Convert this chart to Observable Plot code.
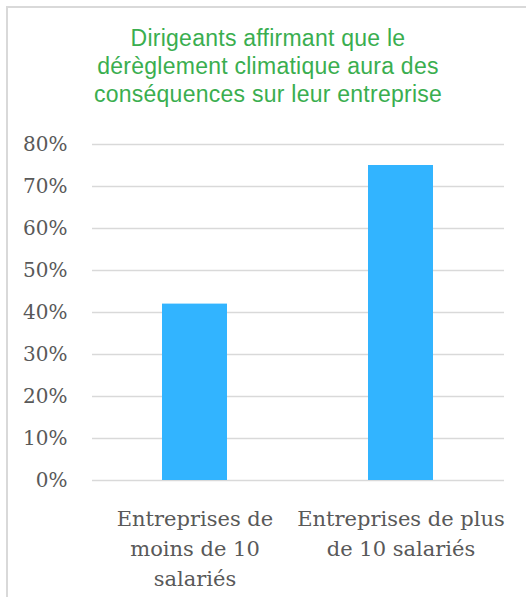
<!DOCTYPE html>
<html>
<head>
<meta charset="utf-8">
<script src="https://cdn.jsdelivr.net/npm/d3@7"></script>
<script src="https://cdn.jsdelivr.net/npm/@observablehq/plot@0.6"></script>
<style>
  html, body { margin: 0; padding: 0; background: #fff; }
  #wrap { position: relative; width: 526px; height: 597px; overflow: hidden; background: #fff; }
  #frame { position: absolute; left: 6px; top: 6px; width: 540px; height: 610px;
           border-left: 2px solid #d9d9d9; border-top: 2px solid #d9d9d9; box-sizing: border-box; }
  #title { position: absolute; left: 0; top: 24px; width: 536px; text-align: center;
           font-family: "Liberation Sans", Arial, sans-serif; font-size: 23px; line-height: 28px;
           letter-spacing: 0.25px; color: #3aae4f; }
  #chart { position: absolute; left: 0; top: 120px; }
</style>
</head>
<body>
<div id="wrap">
  <div id="frame"></div>
  <div id="title">Dirigeants affirmant que le<br>dérèglement climatique aura des<br>conséquences sur leur entreprise</div>
  <div id="chart"></div>
</div>
<script>
const categories = ["Entreprises de\nmoins de 10\nsalariés", "Entreprises de plus\nde 10 salariés"];
const values = [42, 75];
const yTicks = [0, 10, 20, 30, 40, 50, 60, 70, 80];

const data = categories.map((c, i) => ({category: c, value: values[i]}));

const chart = Plot.plot({
  width: 526,
  height: 477,
  marginTop: 24,
  marginBottom: 117,
  marginLeft: 92,
  marginRight: 22,
  style: {color: "#595959", fontFamily: "'DejaVu Serif', serif", background: "transparent"},
  x: {domain: categories, paddingInner: 0.684, paddingOuter: 0.342},
  y: {domain: [0, 80]},
  marks: [
    Plot.gridY(yTicks, {stroke: "#d9d9d9", strokeOpacity: 1, strokeWidth: 1.5}),
    Plot.barY(data, {x: "category", y: "value", fill: "#32b4ff"}),
    Plot.axisY(yTicks, {tickSize: 0, tickPadding: 25, fontSize: 20, tickFormat: d => d + "%", label: null}),
    Plot.axisX({tickSize: 0, tickPadding: 24, fontSize: 21, lineHeight: 1.43, label: null})
  ]
});
document.getElementById("chart").appendChild(chart);
</script>
</body>
</html>
